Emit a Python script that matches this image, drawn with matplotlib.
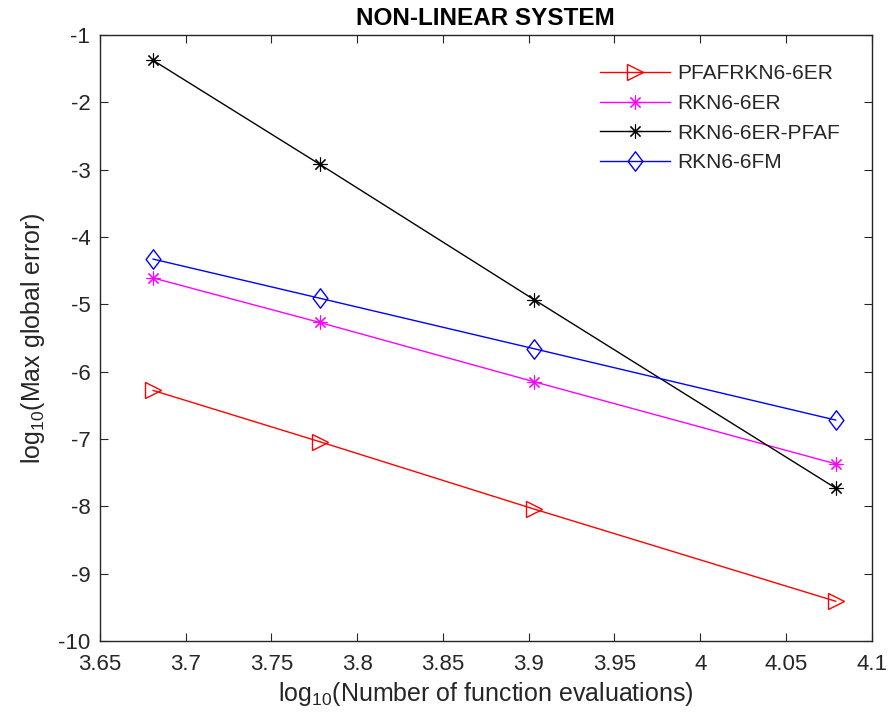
import matplotlib
matplotlib.use("Agg")
import matplotlib.pyplot as plt
from matplotlib.path import Path
from matplotlib.ticker import FuncFormatter

plt.rcParams['font.family'] = ['Liberation Sans', 'DejaVu Sans']
plt.rcParams['mathtext.fontset'] = 'custom'
plt.rcParams['mathtext.rm'] = 'Liberation Sans'

# log10 of function evaluations
x_log = [3.681, 3.778, 3.903, 4.079]

# log10 of max global error
err_pfafrkn = [-6.28, -7.04, -8.04, -9.41]
err_rkn_er = [-4.61, -5.27, -6.15, -7.37]
err_rkn_pfaf = [-1.38, -2.92, -4.93, -7.73]
err_rkn_fm = [-4.33, -4.91, -5.66, -6.72]

labels = ['PFAFRKN6-6ER', 'RKN6-6ER', 'RKN6-6ER-PFAF', 'RKN6-6FM']

x_ticks = [3.65, 3.7, 3.75, 3.8, 3.85, 3.9, 3.95, 4.0, 4.05, 4.1]
y_ticks = [-10, -9, -8, -7, -6, -5, -4, -3, -2, -1]

# matlab-like markers
asterisk = (8, 2, 0)
diamond = Path([(0, 1), (0.76, 0), (0, -1), (-0.76, 0), (0, 1)],
               [Path.MOVETO, Path.LINETO, Path.LINETO, Path.LINETO, Path.CLOSEPOLY])

fig = plt.figure(figsize=(8.88, 7.26), dpi=100)
ax = fig.add_axes([100/888, 85/726, 771.7/888, 606.2/726])

ax.plot(x_log, err_pfafrkn, color='red', lw=1.0, marker='>', ms=12,
        mfc='none', mec='red', mew=1.0, label=labels[0])
ax.plot(x_log, err_rkn_er, color='magenta', lw=1.0, marker=asterisk, ms=10,
        mec='magenta', mew=0.8, label=labels[1])
ax.plot(x_log, err_rkn_pfaf, color='black', lw=1.0, marker=asterisk, ms=10,
        mec='black', mew=0.8, label=labels[2])
ax.plot(x_log, err_rkn_fm, color='blue', lw=1.0, marker=diamond, ms=14,
        mfc='none', mec='blue', mew=1.0, label=labels[3])

ax.set_xlim(3.65, 4.1)
ax.set_ylim(-10, -1)
ax.set_xticks(x_ticks)
ax.set_yticks(y_ticks)
fmt = FuncFormatter(lambda v, p: '%g' % round(v, 4))
ax.xaxis.set_major_formatter(fmt)
ax.yaxis.set_major_formatter(fmt)

axc = (0.15, 0.15, 0.15)
for s in ax.spines.values():
    s.set_color(axc)
    s.set_linewidth(1.0)
ax.tick_params(direction='in', length=5.5, width=0.8, colors=axc,
               labelcolor=axc, labelsize=16, top=True, right=True)
ax.tick_params(axis='x', pad=9)
ax.tick_params(axis='y', pad=7)

ax.set_xlabel(r'log$_{10}$(Number of function evaluations)', fontsize=18, color=axc, labelpad=4)
ax.set_ylabel(r'log$_{10}$(Max global error)', fontsize=18, color=axc, labelpad=8)
ax.set_title('NON-LINEAR SYSTEM', fontsize=17.5, fontweight='bold', pad=7)

leg = ax.legend(loc='upper left', bbox_to_anchor=(600/888, 1 - 64/726),
                bbox_transform=fig.transFigure, frameon=False, fontsize=15,
                handlelength=3.37, handletextpad=0.32, labelspacing=0.52,
                borderpad=0, borderaxespad=0)
for t in leg.get_texts():
    t.set_color(axc)

fig.savefig('out.png', dpi=100)
